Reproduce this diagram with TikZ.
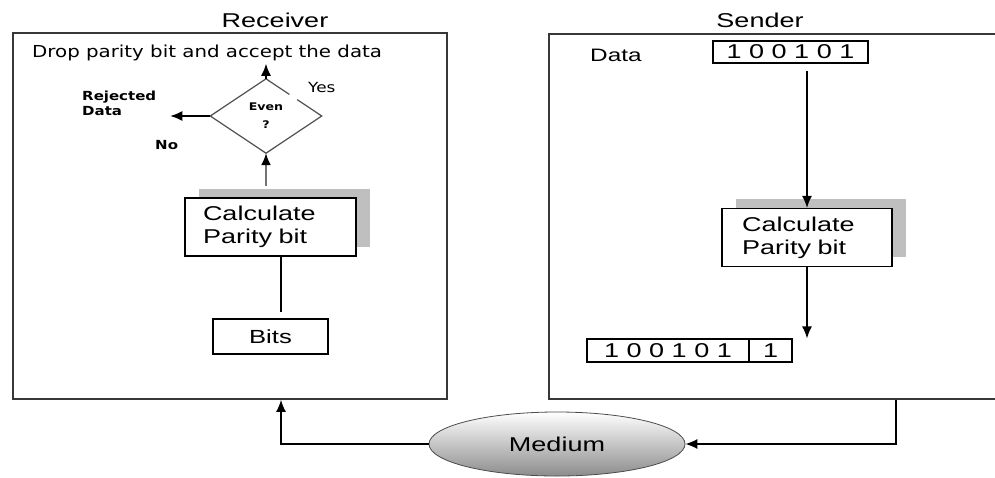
\documentclass[tikz,border=0pt]{standalone}
\usepackage{fontspec}
\setmainfont{Liberation Sans}[FakeStretch=1.35]
\newfontfamily\tah{DejaVu Sans}[FakeStretch=1.2]
\usetikzlibrary{shapes.geometric,arrows.meta,calc,shadows}
\begin{document}
\begin{tikzpicture}[x=1pt,y=-1pt,
  outer/.style={draw=black!78, line width=1.7pt, inner sep=0pt},
  pbox/.style={draw=black, line width=1.2pt, inner sep=0pt},
  arr/.style={-{Latex[length=12pt,width=10pt]}, line width=1.4pt},
  garr/.style={-{Latex[length=12pt,width=10pt,color=black]}, draw=black!55, line width=1.7pt},
  plain/.style={line width=1.4pt},
  dline/.style={draw=black!70, line width=1.2pt},
  big/.style={font=\fontsize{20}{23}\selectfont},
  calcbox/.style={pbox, big, align=left, minimum height=58pt, fill=white},
  shadowbox/.style={drop shadow={shadow xshift=#1, shadow yshift=9.5pt, fill=black!25, opacity=1}},
]
\useasboundingbox (0,0) rectangle (995,477);

% outer boxes
\node[outer, minimum width=434pt, minimum height=366pt] (recv) at (230,216) {};
\node[outer, minimum width=451pt, minimum height=365pt] (send) at (774.5,216.5) {};

% titles
\node[big, anchor=base] (rtitle) at (275,27) {Receiver};
\node[big, anchor=base] (stitle) at (760,27) {Sender};

% receiver contents
\node[anchor=base west, inner sep=0pt, font=\tah\fontsize{16.5}{20}\selectfont] (drop) at (32,57) {Drop parity bit and accept the data};

\node[diamond, minimum width=111pt, minimum height=74pt, inner sep=0pt, align=center,
      font=\tah\bfseries\fontsize{10.5}{18}\selectfont] (d) at (266,116) {Even\\?};
\draw[dline] ($(d.north)!0.56!(d.east)$) -- (d.east) -- (d.south) -- (d.west) -- (d.north) -- ($(d.north)!0.42!(d.east)$);

\coordinate (upend) at ($(d.north)+(0,-15)$);
\coordinate (leftend) at ($(d.west)+(-40,0)$);
\draw[arr] (d.north) -- (upend);
\draw[arr] (d.west) -- (leftend);

\node[anchor=west, inner sep=0pt, font=\tah\fontsize{14}{16}\selectfont] (yes) at (308,87) {Yes};
\node[anchor=west, inner sep=0pt, align=left, font=\tah\bfseries\fontsize{12.5}{15}\selectfont] (rej) at (82,103.5) {Rejected\\Data};
\node[anchor=west, inner sep=0pt, font=\tah\bfseries\fontsize{12.5}{15}\selectfont] (no) at (155,145) {No};

\node[calcbox, shadowbox=13.5pt, text width=135pt, inner xsep=18pt] (rcalc) at (270.5,227) {Calculate\\Parity bit};
\draw[garr] ($(d.south |- rcalc.north)+(0,-11)$) -- (d.south);

\node[pbox, minimum width=115pt, minimum height=35pt, font=\fontsize{19}{22}\selectfont] (bits) at (270.5,336.5) {Bits};
\draw[plain] ($(rcalc.south)+(10.5,0)$) -- ($(bits.north)+(10.5,-6)$);

% sender contents
\node[anchor=west, inner sep=0pt, font=\fontsize{18}{20}\selectfont] (datalbl) at (590,55) {Data};
\node[pbox, minimum width=155pt, minimum height=22pt, big] (dbox) at (790.5,52) {1 0 0 1 0 1};

\node[calcbox, shadowbox=14pt, text width=130pt, inner xsep=20pt] (scalc) at (807,237.5) {Calculate\\Parity bit};
\draw[arr] ($(scalc.north |- dbox.south)+(0,7)$) -- (scalc.north);

\node[pbox, minimum width=162pt, minimum height=23pt, big] (rl) at (668,350.5) {1 0 0 1 0 1};
\node[pbox, minimum width=43pt, minimum height=23pt, big] (rr) at (770.5,350.5) {1};
\draw[arr] (scalc.south) -- (scalc.south |- rl.north);

% medium
\node[ellipse, minimum width=256pt, minimum height=64pt, draw=black!70, line width=0.8pt,
      top color=white, bottom color=black!45, big] (med) at (557,444) {Medium};

\coordinate (lc) at (281,444);
\draw[arr] (med.west) -- (lc) -- (lc |- recv.south);
\coordinate (rc) at (896,444);
\draw[arr] (rc |- send.south) -- (rc) -- (med.east);
\end{tikzpicture}
\end{document}
